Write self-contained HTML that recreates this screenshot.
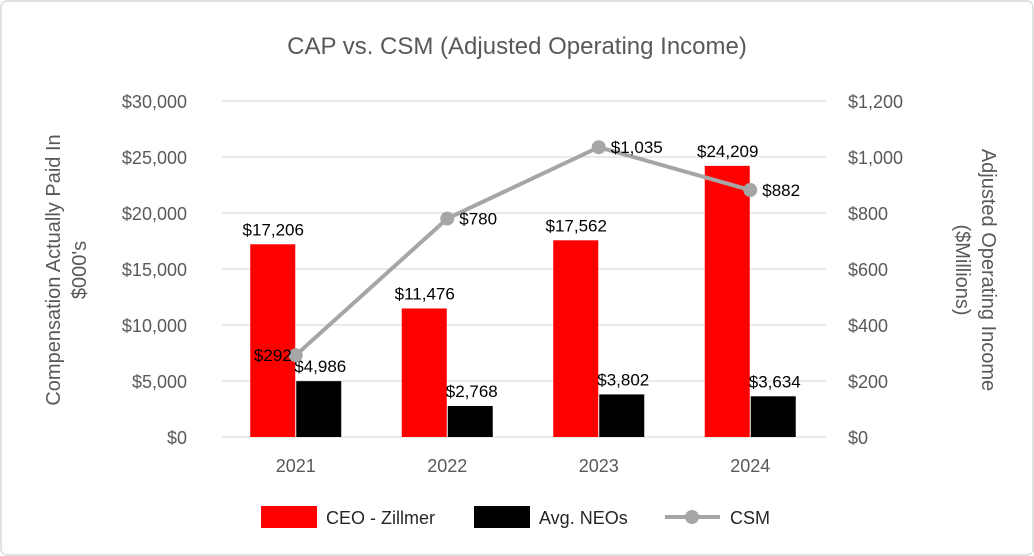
<!DOCTYPE html>
<html><head><meta charset="utf-8"><style>
body{margin:0;background:#fff;}
svg{display:block;font-family:"Liberation Sans",sans-serif;}
</style></head><body>
<svg id="chart" width="1034" height="556" viewBox="0 0 1034 556">
<rect x="1" y="1" width="1032" height="554" rx="6" fill="#fff" stroke="#d9d9d9" stroke-width="1.5"/>
<text x="517" y="54" text-anchor="middle" font-size="24" fill="#595959">CAP vs. CSM (Adjusted Operating Income)</text>
<text transform="translate(64,270) rotate(-90)" text-anchor="middle" font-size="20" fill="#595959"><tspan x="0" dy="-4">Compensation Actually Paid In</tspan><tspan x="0" dy="26">$000's</tspan></text>
<text transform="translate(978,270) rotate(90)" text-anchor="middle" font-size="20" fill="#595959"><tspan x="0" dy="-4">Adjusted Operating Income</tspan><tspan x="0" dy="26">($Millions)</tspan></text>
<g id="axes"></g><g id="bars"></g><g id="line"></g>
<g>
<rect x="261" y="506" width="56" height="22" fill="#ff0000"/>
<text x="326" y="524" font-size="18" fill="#262626">CEO - Zillmer</text>
<rect x="474" y="506" width="56" height="22" fill="#000"/>
<text x="539" y="524" font-size="18" fill="#262626">Avg. NEOs</text>
<line x1="665" y1="517" x2="720" y2="517" stroke="#a6a6a6" stroke-width="4"/>
<circle cx="692" cy="517" r="7" fill="#a6a6a6"/>
<text x="730" y="524" font-size="18" fill="#262626">CSM</text>
</g>
</svg>
<script>
const categories=["2021","2022","2023","2024"];
const ceoValues=[17206,11476,17562,24209];
const neoValues=[4986,2768,3802,3634];
const csmValues=[292,780,1035,882];
const leftTicks=[0,5000,10000,15000,20000,25000,30000];
const rightTicks=[0,200,400,600,800,1000,1200];
const NS="http://www.w3.org/2000/svg";
const top0=101,bot=437,x0=220,step=151.5;
function yL(v){return bot-(v/30000)*(bot-top0);}
function yR(v){return bot-(v/1200)*(bot-top0);}
function xC(i){return x0+step*(i+0.5);}
function fmt(v){return "$"+v.toLocaleString("en-US");}
function mk(tag,attrs,parent,txt){const e=document.createElementNS(NS,tag);for(const k in attrs)e.setAttribute(k,attrs[k]);if(txt!==undefined)e.textContent=txt;parent.appendChild(e);return e;}
const axes=document.getElementById("axes"),bars=document.getElementById("bars"),line=document.getElementById("line");
leftTicks.forEach(t=>{const g=mk("line",{x1:x0+2,y1:yL(t),x2:x0+step*4,y2:yL(t),stroke:"#e3e3e3","stroke-width":1.5},axes);


const e=mk("text",{x:187,y:yL(t)+7,"text-anchor":"end","font-size":18,fill:"#595959"},axes,fmt(t));

});
rightTicks.forEach(t=>{const e=mk("text",{x:848,y:yR(t)+7,"font-size":18,fill:"#595959"},axes,fmt(t));

});
categories.forEach((c,i)=>{const e=mk("text",{x:xC(i),y:472,"text-anchor":"middle","font-size":18,fill:"#595959"},axes,c);


const bw=45;
const r=mk("rect",{x:xC(i)-bw-0.5,y:yL(ceoValues[i]),width:bw,height:bot-yL(ceoValues[i]),fill:"#ff0000"},bars);


const b=mk("rect",{x:xC(i)+0.5,y:yL(neoValues[i]),width:bw,height:bot-yL(neoValues[i]),fill:"#000"},bars);


const l1=mk("text",{x:xC(i)-bw/2,y:yL(ceoValues[i])-9,"text-anchor":"middle","font-size":17,fill:"#000"},bars,fmt(ceoValues[i]));


const l2=mk("text",{x:xC(i)+bw/2+2,y:yL(neoValues[i])-9,"text-anchor":"middle","font-size":17,fill:"#000"},bars,fmt(neoValues[i]));

});
const pts=csmValues.map((v,i)=>xC(i)+","+yR(v)).join(" ");
const pl=mk("polyline",{points:pts,fill:"none",stroke:"#a6a6a6","stroke-width":4},line);


csmValues.forEach((v,i)=>{const c=mk("circle",{cx:xC(i),cy:yR(v),r:7,fill:"#a6a6a6"},line);


const lx=i===0?xC(i)-4:xC(i)+12;const anchor=i===0?"end":"start";
const t=mk("text",{x:lx,y:yR(v)+6,"text-anchor":anchor,"font-size":17,fill:"#000"},line,fmt(v));

});
</script>
</body></html>
